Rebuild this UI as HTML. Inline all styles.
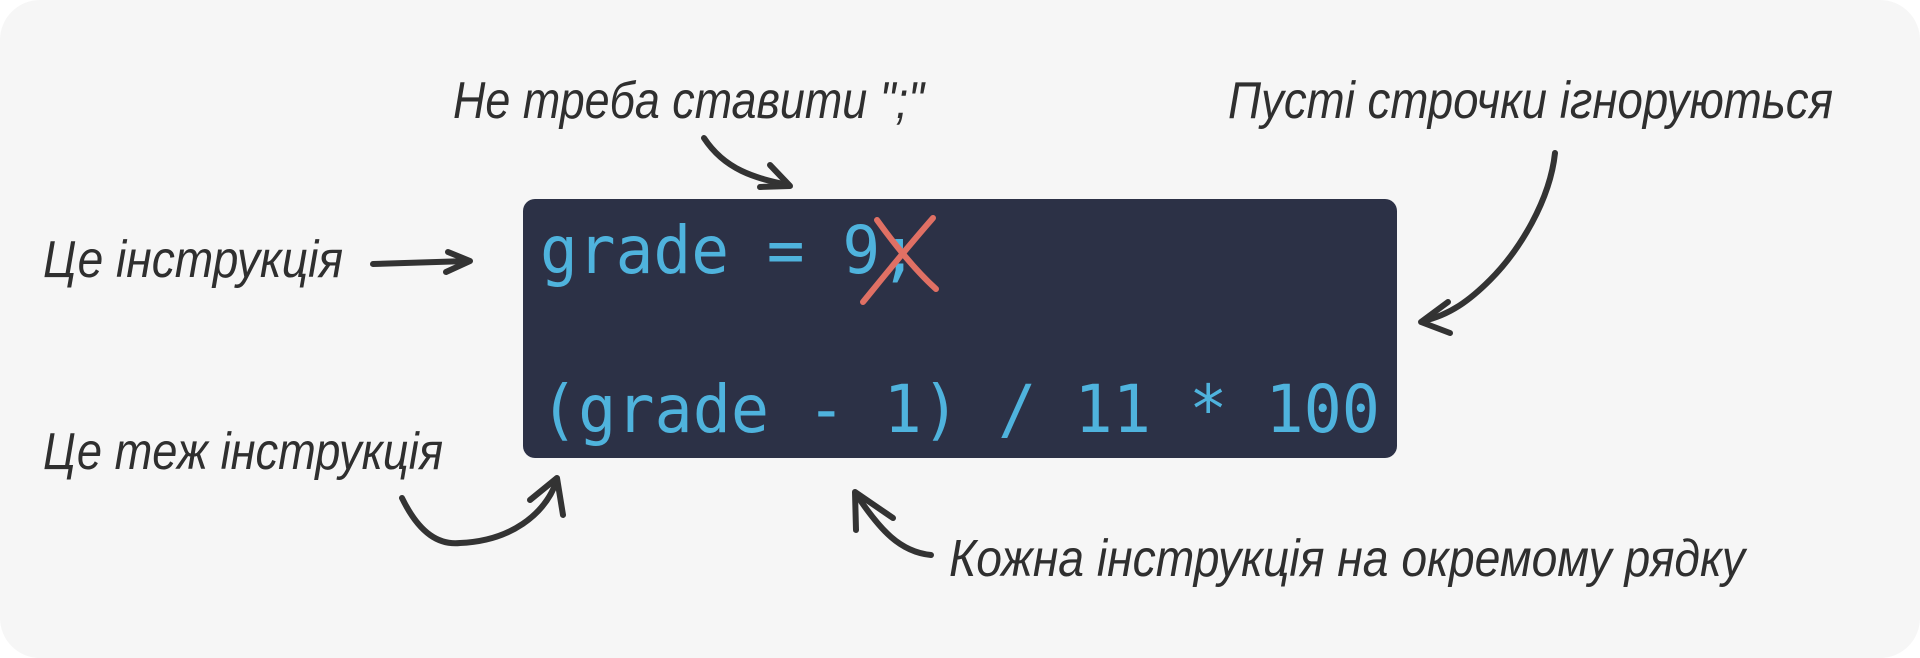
<!DOCTYPE html>
<html><head><meta charset="utf-8"><style>
html,body{margin:0;padding:0;background:#fff;}
body{width:1920px;height:658px;overflow:hidden;}
svg{display:block;}
.l{font-family:"Liberation Sans Narrow","Liberation Sans",sans-serif;font-style:italic;font-size:52px;fill:#2f2f2f;}
.c{font-family:"DejaVu Sans Mono","Liberation Mono",monospace;font-size:66px;fill:#4fb3dd;}
.a{fill:none;stroke:#333;stroke-width:6;stroke-linecap:round;stroke-linejoin:round;}
</style></head><body>
<svg width="1920" height="658" viewBox="0 0 1920 658">
<rect x="0" y="0" width="1920" height="658" rx="40" fill="#f6f6f6"/>
<rect x="523" y="199" width="874" height="259" rx="12" fill="#2c3146"/>
<text class="c" x="540" y="273" textLength="378" lengthAdjust="spacingAndGlyphs">grade = 9;</text>
<text class="c" x="540" y="432" textLength="840" lengthAdjust="spacingAndGlyphs">(grade - 1) / 11 * 100</text>
<path d="M877,220 C895,245 915,270 936,289" stroke="#e07064" stroke-width="6" fill="none" stroke-linecap="round"/>
<path d="M933,218 C905,250 885,275 863,302" stroke="#e07064" stroke-width="6" fill="none" stroke-linecap="round"/>

<text class="l" x="43" y="277" textLength="300" lengthAdjust="spacingAndGlyphs">Це інструкція</text>
<text class="l" x="453" y="118" textLength="471" lengthAdjust="spacingAndGlyphs">Не треба ставити ";"</text>
<text class="l" x="1228" y="118" textLength="605" lengthAdjust="spacingAndGlyphs">Пусті строчки ігноруються</text>
<text class="l" x="43" y="469" textLength="400" lengthAdjust="spacingAndGlyphs">Це теж інструкція</text>
<text class="l" x="949" y="576" textLength="796" lengthAdjust="spacingAndGlyphs">Кожна інструкція на окремому рядку</text>

<path class="a" d="M373,264 L468,261"/>
<path class="a" d="M448,252 L470,261 L446,272"/>

<path class="a" d="M704,138 C725,170 755,178 788,185"/>
<path class="a" d="M770,165 L790,186 L760,187"/>

<path class="a" d="M1555,153 C1550,200 1520,250 1490,280 C1470,300 1450,315 1423,321"/>
<path class="a" d="M1448,302 L1421,322 L1450,333"/>

<path class="a" d="M402,498 C420,535 440,545 460,543 C510,541 545,515 557,480"/>
<path class="a" d="M530,500 L557,478 L563,515"/>

<path class="a" d="M931,555 C900,552 880,530 856,494"/>
<path class="a" d="M856,530 L855,492 L893,518"/>
</svg>
</body></html>
